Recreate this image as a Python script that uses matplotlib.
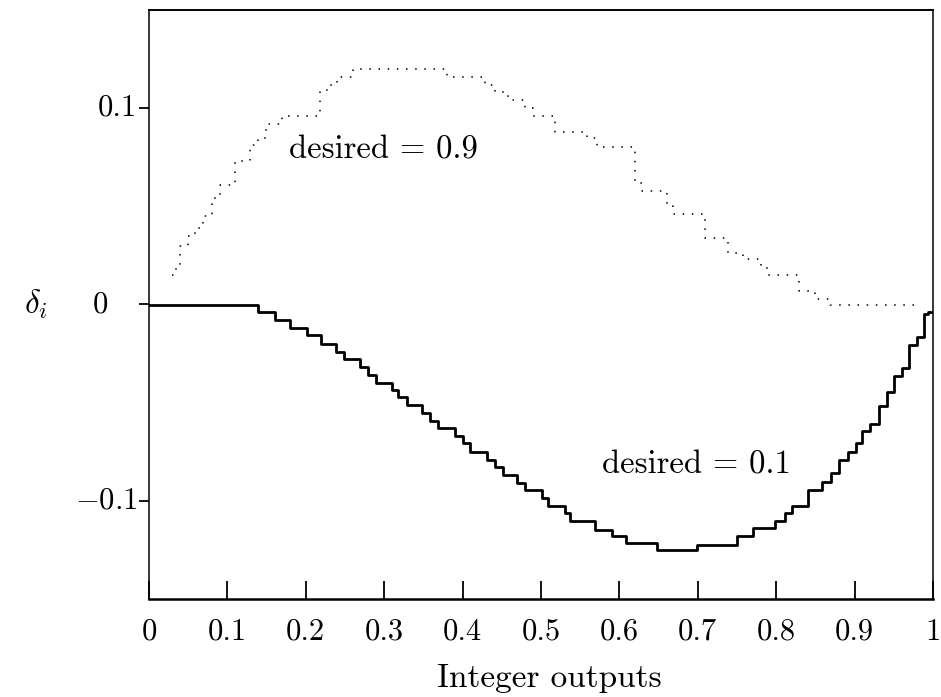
import numpy as np
import matplotlib
matplotlib.use('Agg')
import matplotlib.pyplot as plt

plt.rcParams['font.family'] = ['cmr10', 'DejaVu Serif']
plt.rcParams['mathtext.fontset'] = 'cm'
plt.rcParams['axes.unicode_minus'] = False

# desired = 0.1 : solid staircase (step edges, level after edge)
x_d01 = [0.0, 0.139, 0.161, 0.180, 0.201, 0.220, 0.239, 0.249, 0.269, 0.279,
         0.290, 0.310, 0.318, 0.329, 0.348, 0.358, 0.369, 0.390, 0.401, 0.410,
         0.431, 0.441, 0.451, 0.470, 0.480, 0.501, 0.509, 0.531, 0.537, 0.569,
         0.590, 0.609, 0.648, 0.699, 0.750, 0.771, 0.798, 0.811, 0.820, 0.841,
         0.859, 0.870, 0.880, 0.891, 0.902, 0.910, 0.920, 0.931, 0.941, 0.950,
         0.960, 0.970, 0.980, 0.989, 0.994, 1.0]
y_d01 = [-0.0005, -0.0039, -0.0081, -0.0122, -0.0157, -0.0203, -0.0242, -0.0279, -0.0320, -0.0360,
         -0.0399, -0.0437, -0.0471, -0.0513, -0.0555, -0.0592, -0.0631, -0.0670, -0.0707, -0.0750,
         -0.0792, -0.0829, -0.0868, -0.0910, -0.0944, -0.0986, -0.1025, -0.1061, -0.1105, -0.1147,
         -0.1181, -0.1215, -0.1252, -0.1223, -0.1181, -0.1139, -0.1105, -0.1062, -0.1025, -0.0944,
         -0.0902, -0.0859, -0.0792, -0.0750, -0.0707, -0.0645, -0.0609, -0.0518, -0.0445, -0.0365,
         -0.0325, -0.0208, -0.0166, -0.0046, -0.0039, -0.0039]

# desired = 0.9 : dotted staircase
x_d09 = [0.029, 0.034, 0.040, 0.050, 0.059, 0.069, 0.080, 0.091, 0.110, 0.129,
         0.139, 0.149, 0.170, 0.218, 0.228, 0.240, 0.260, 0.380, 0.429, 0.441,
         0.458, 0.480, 0.490, 0.518, 0.559, 0.571, 0.620, 0.629, 0.661, 0.668,
         0.709, 0.739, 0.758, 0.780, 0.788, 0.829, 0.849, 0.869, 0.980]
y_d09 = [0.015, 0.019, 0.030, 0.035, 0.039, 0.045, 0.054, 0.061, 0.073, 0.081,
         0.085, 0.092, 0.096, 0.109, 0.112, 0.116, 0.120, 0.116, 0.112, 0.108,
         0.104, 0.100, 0.096, 0.088, 0.085, 0.080, 0.062, 0.058, 0.050, 0.046,
         0.034, 0.026, 0.023, 0.019, 0.015, 0.007, 0.003, -0.0005, -0.0005]

xticks = [0, 0.1, 0.2, 0.3, 0.4, 0.5, 0.6, 0.7, 0.8, 0.9, 1]
xtick_labels = ['0', '0.1', '0.2', '0.3', '0.4', '0.5', '0.6', '0.7', '0.8', '0.9', '1']
yticks = [-0.1, 0, 0.1]
ytick_labels = [r'$-0.1$', '0', '0.1']

fs = 22

fig = plt.figure(figsize=(9.41, 6.97), dpi=100)
ax = fig.add_axes([0.1583, 0.1406, 0.8332, 0.8451])

ax.step(x_d01, y_d01, where='post', color='k', lw=2.0)
ax.step(x_d09, y_d09, where='post', color='k', lw=1.1, ls=(0, (1, 5)))

ax.set_xlim(0, 1)
ax.set_ylim(-0.15, 0.15)

ax.set_xticks(xticks)
ax.set_xticklabels(xtick_labels, fontsize=fs)
ax.tick_params(axis='x', direction='in', length=13, width=1.3, pad=14)
ax.set_yticks(yticks)
ax.set_yticklabels([])
ax.tick_params(axis='y', direction='out', length=7, width=1.3)

# y tick labels lined up on the decimal point like the original
for v, lab in zip(yticks, ytick_labels):
    xr = -0.015 if v != 0 else -0.052
    ax.text(xr, v, lab, transform=ax.get_yaxis_transform(), ha='right', va='center', fontsize=fs)

for s in ['left', 'right']:
    ax.spines[s].set_linewidth(1.1)
ax.spines['top'].set_linewidth(1.4)
ax.spines['bottom'].set_linewidth(1.8)

fig.text(0.5835, 0.027, 'Integer outputs', fontsize=24, ha='center', va='center')
ax.text(-0.16, 0.0, r'$\delta_i$', transform=ax.get_yaxis_transform(), ha='left', va='center', fontsize=24)

ax.text(0.179, 0.0785, 'desired = 0.9', fontsize=23.5, va='center')
ax.text(0.578, -0.0815, 'desired = 0.1', fontsize=23.5, va='center')

fig.savefig('out.png', dpi=100)
